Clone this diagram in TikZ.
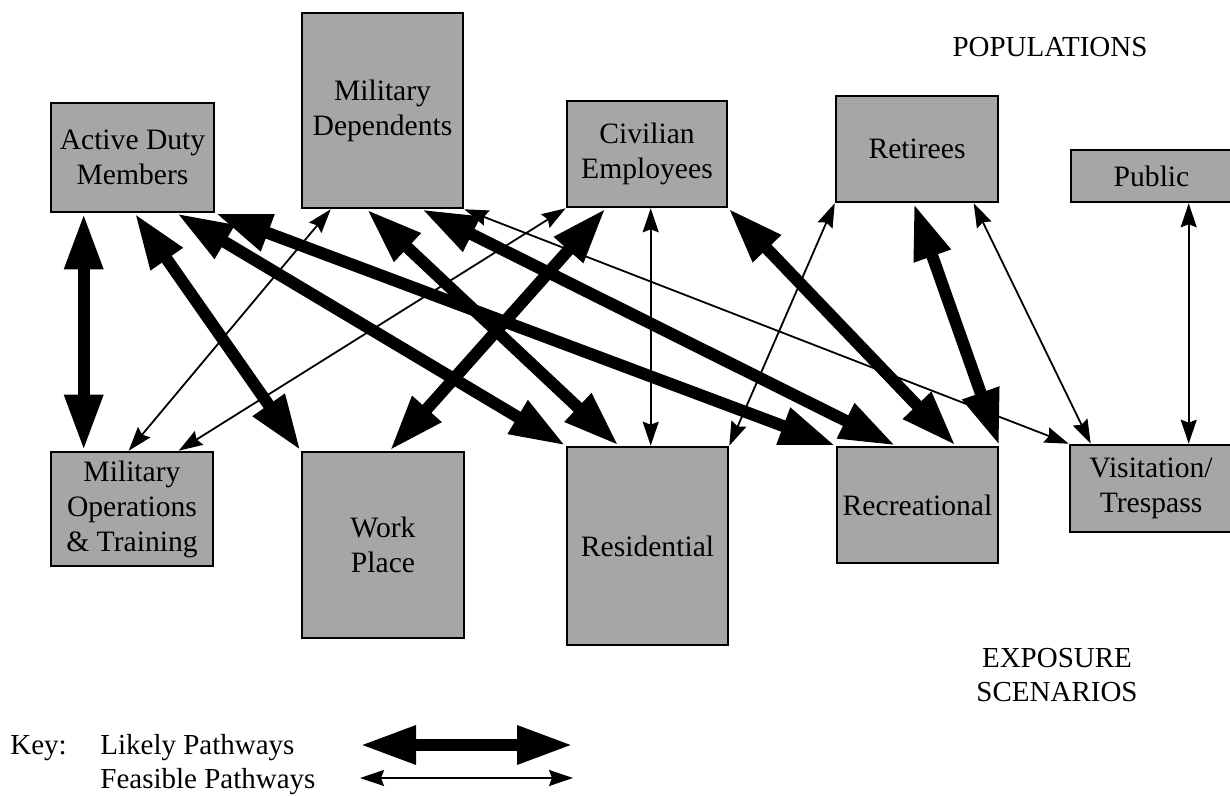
\documentclass[tikz,border=0pt]{standalone}
\usepackage{fontspec}
\setmainfont{Liberation Serif}
\usetikzlibrary{arrows.meta,calc}
\begin{document}
\begin{tikzpicture}[x=0.5pt,y=-0.5pt,
  box/.style={draw=black, line width=1.3pt, fill=black!35, inner sep=0pt, align=center, font=\fontsize{14.8}{17.5}\selectfont},
  lbl/.style={font=\fontsize{14.5}{17}\selectfont, align=center, inner sep=0pt},
  likely/.style={line width=6pt, {Triangle[length=28pt,width=18pt]}-{Triangle[length=28pt,width=18pt]}},
  feasible/.style={line width=0.9pt, {Stealth[length=12pt,width=8pt,inset=1.5pt]}-{Stealth[length=12pt,width=8pt,inset=1.5pt]}}]
\useasboundingbox (0,0) rectangle (1230,796);

% populations
\node[box, minimum width=81.5pt, minimum height=54.5pt] (AD) at (132.5,157.5) {Active Duty\\Members};
\node[box, minimum width=80.5pt, minimum height=97.5pt] (MD) at (382.5,110.5) {Military\\Dependents};
\node[box, minimum width=80pt, minimum height=53pt] (CE) at (647,154) {Civilian\\Employees};
\node[box, minimum width=81pt, minimum height=53pt] (RT) at (917,149) {Retirees};
\node[box, minimum width=80.5pt, minimum height=26pt] (PU) at (1151.5,176) {Public};

% exposure scenarios
\node[box, minimum width=81pt, minimum height=57pt] (MO) at (132,509) {Military\\Operations\\\&~Training};
\node[box, minimum width=81pt, minimum height=93pt] (WP) at (383,545) {Work\\Place};
\node[box, minimum width=80.5pt, minimum height=99pt] (RS) at (647.5,546) {Residential};
\node[box, minimum width=80.5pt, minimum height=58pt] (RC) at (917.5,505) {Recreational};
\node[box, minimum width=81pt, minimum height=43.5pt] (VT) at (1151,488.5) {Visitation/\\Trespass};

% headings
\node[lbl] (pop) at (1050,47) {POPULATIONS};
\node[lbl] (exp) at (1057,675) {EXPOSURE\\SCENARIOS};

% likely pathways
\draw[likely] ($(AD.south west)+(34,0)$) -- ($(MO.north west)+(34,0)$);
\draw[likely] ($(AD.south west)+(85,0)$) -- (WP.north west);
\draw[likely] ($(AD.south west)+(127,0)$) -- (RS.north west);
\draw[likely] (AD.south east) -- (RC.north west);
\draw[likely] ($(MD.south west)+(66,0)$) -- ($(RS.north west)+(53,0)$);
\draw[likely] ($(MD.south west)+(121,0)$) -- ($(RC.north west)+(60,0)$);
\draw[likely] ($(CE.south west)+(40,0)$) -- ($(WP.north west)+(89,0)$);
\draw[likely] (CE.south east) -- ($(RC.north west)+(120,0)$);
\draw[likely] ($(RT.south west)+(79,0)$) -- (RC.north east);

% feasible pathways
\draw[feasible] ($(MD.south west)+(30,0)$) -- ($(MO.north west)+(79,0)$);
\draw[feasible] (CE.south west) -- ($(MO.north west)+(129,0)$);
\draw[feasible] (MD.south east) -- (VT.north west);
\draw[feasible] ($(CE.south west)+(85,0)$) -- ($(RS.north west)+(85,0)$);
\draw[feasible] (RT.south west) -- (RS.north east);
\draw[feasible] ($(RT.south west)+(139,0)$) -- ($(VT.north west)+(22,0)$);
\draw[feasible] ($(PU.south west)+(119,0)$) -- ($(VT.north west)+(120,0)$);

% key
\node[lbl, anchor=west] (key) at (10,748) {Key:};
\node[lbl, anchor=west] (klik) at (100,748) {Likely Pathways};
\node[lbl, anchor=west] (kfea) at (100,782) {Feasible Pathways};
\coordinate (la) at (360,745);
\coordinate (lb) at (573,745);
\coordinate (fa) at (360,778);
\coordinate (fb) at (573,778);
\draw[likely] (la) -- (lb);
\draw[feasible] (fa) -- (fb);
\end{tikzpicture}
\end{document}
